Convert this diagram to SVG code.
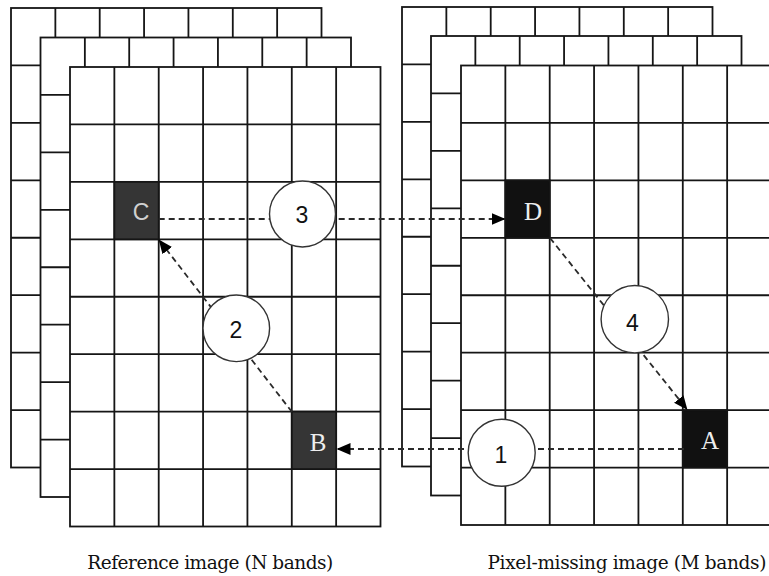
<svg xmlns="http://www.w3.org/2000/svg" xmlns:xlink="http://www.w3.org/1999/xlink" width="769" height="576" viewBox="0 0 769 576">
  <style>
    .sheet { fill: #ffffff; stroke: #151515; stroke-width: 1.8; }
    .grid { fill: none; stroke: #151515; stroke-width: 1.8; }
    .dark { fill: #353535; stroke: #151515; stroke-width: 1.8; }
    .black { fill: #111111; stroke: #151515; stroke-width: 1.8; }
    .cell-serif { font-family: "Liberation Serif", "Times New Roman", serif; font-size: 25px; fill: #eeeeee; text-anchor: middle; dominant-baseline: central; }
    .cell-sans { font-family: "Liberation Sans", Arial, sans-serif; font-size: 23px; fill: #d0d0d0; text-anchor: middle; dominant-baseline: central; }
    .step { fill: #ffffff; stroke: #333333; stroke-width: 1.4; }
    .step-num { font-family: "Liberation Sans", Arial, sans-serif; font-size: 23px; fill: #111111; text-anchor: middle; dominant-baseline: central; }
    .link { fill: none; stroke: #2a2a2a; stroke-width: 1.8; stroke-dasharray: 6 4; marker-end: url(#arrow); }
    .caption { font-family: "DejaVu Serif", "Liberation Serif", serif; font-size: 18.5px; fill: #111111; text-anchor: middle; }
  </style>
  <defs>
    <marker id="arrow" markerUnits="userSpaceOnUse" markerWidth="16" markerHeight="14" refX="14" refY="6" orient="auto">
      <path d="M0,0 L14,6 L0,12 z" fill="#000000"/>
    </marker>
    <!-- one image band: 7 x 8 pixel grid -->
    <g id="band">
      <rect class="sheet" x="0" y="0" width="310.5" height="459.5"/>
      <path class="grid" d="M44.36,0V459.5 M88.71,0V459.5 M133.07,0V459.5 M177.43,0V459.5 M221.79,0V459.5 M266.14,0V459.5
        M0,57.44H310.5 M0,114.88H310.5 M0,172.31H310.5 M0,229.75H310.5 M0,287.19H310.5 M0,344.63H310.5 M0,402.06H310.5"/>
    </g>
  </defs>
  <rect width="769" height="576" fill="#ffffff"/>

  <!-- reference image stack -->
  <g id="reference-stack">
    <use xlink:href="#band" x="11" y="8"/>
    <use xlink:href="#band" x="40.5" y="37.5"/>
    <use xlink:href="#band" x="70" y="67"/>
  </g>

  <!-- pixel-missing image stack -->
  <g id="missing-stack">
    <use xlink:href="#band" x="402" y="7"/>
    <use xlink:href="#band" x="431" y="36"/>
    <use xlink:href="#band" x="461" y="65.5"/>
  </g>

  <g id="pixel-C">
    <rect class="dark" x="114.36" y="181.88" width="44.36" height="57.44"/>
    <text class="cell-sans" x="141" y="212">C</text>
  </g>
  <g id="pixel-B">
    <rect class="dark" x="291.79" y="411.63" width="44.36" height="57.44"/>
    <text class="cell-serif" x="318" y="442">B</text>
  </g>
  <g id="pixel-D">
    <rect class="black" x="505.36" y="180.38" width="44.36" height="57.44"/>
    <text class="cell-serif" x="533" y="211">D</text>
  </g>
  <g id="pixel-A">
    <rect class="black" x="682.79" y="410.13" width="44.36" height="57.44"/>
    <text class="cell-serif" x="710" y="440">A</text>
  </g>

  <!-- search path between pixels -->
  <g id="connectors">
    <line class="link" x1="684" y1="449" x2="336.5" y2="449"/>
    <line class="link" x1="292" y1="412" x2="158.7" y2="239.5"/>
    <line class="link" x1="158.7" y1="219" x2="505.5" y2="219"/>
    <line class="link" x1="550" y1="238" x2="687.5" y2="410"/>
  </g>

  <g id="step-1">
    <circle class="step" cx="501.7" cy="452.7" r="33.5"/>
    <text class="step-num" x="501" y="455">1</text>
  </g>
  <g id="step-2">
    <circle class="step" cx="236.3" cy="328.3" r="33.3"/>
    <text class="step-num" x="236" y="330">2</text>
  </g>
  <g id="step-3">
    <circle class="step" cx="302.5" cy="214" r="33"/>
    <text class="step-num" x="302" y="215">3</text>
  </g>
  <g id="step-4">
    <circle class="step" cx="634.8" cy="319.2" r="33.7"/>
    <text class="step-num" x="632.5" y="323">4</text>
  </g>

  <g id="captions">
    <text class="caption" x="210.3" y="568.5" textLength="246" lengthAdjust="spacing">Reference image (N bands)</text>
    <text class="caption" x="627" y="568.5" textLength="279" lengthAdjust="spacing">Pixel-missing image (M bands)</text>
  </g>
</svg>
